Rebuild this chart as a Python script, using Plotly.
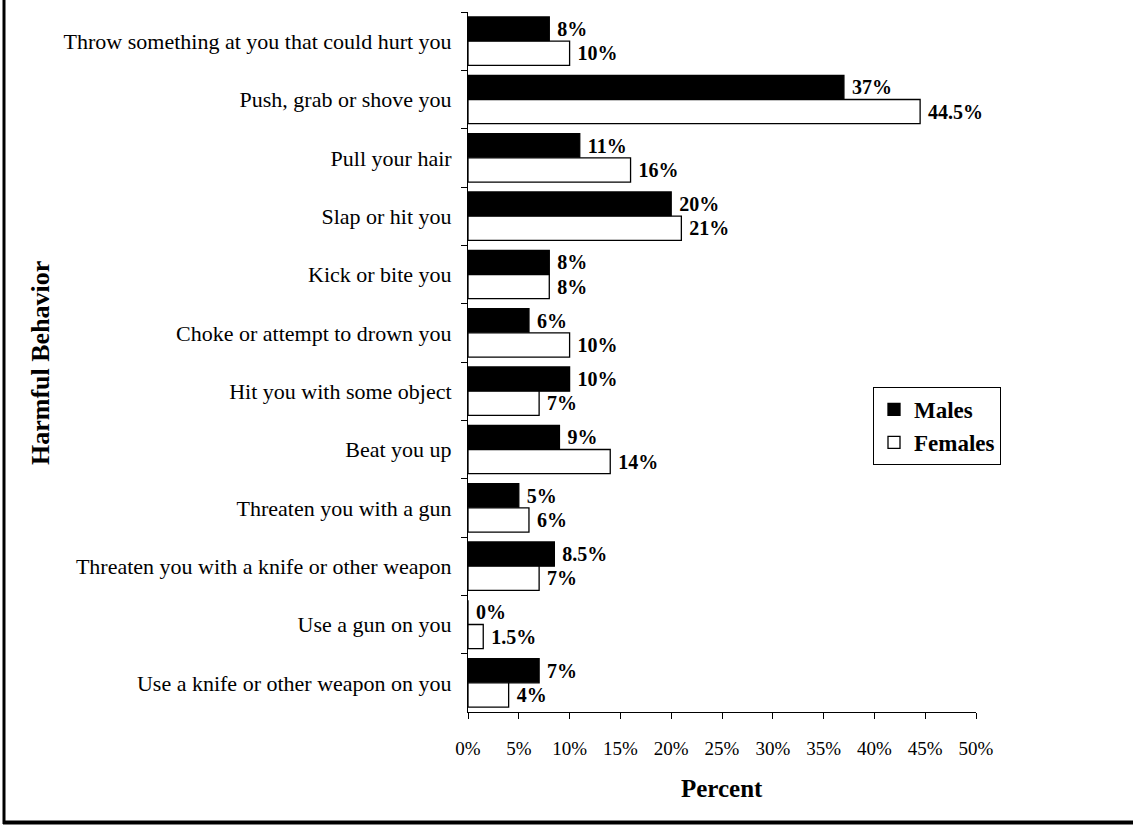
import plotly.graph_objects as go

categories = [
    "Throw something at you that could hurt you",
    "Push, grab or shove you",
    "Pull your hair",
    "Slap or hit you",
    "Kick or bite you",
    "Choke or attempt to drown you",
    "Hit you with some object",
    "Beat you up",
    "Threaten you with a gun",
    "Threaten you with a knife or other weapon",
    "Use a gun on you",
    "Use a knife or other weapon on you",
]
males = [8, 37, 11, 20, 8, 6, 10, 9, 5, 8.5, 0, 7]
females = [10, 44.5, 16, 21, 8, 10, 7, 14, 6, 7, 1.5, 4]
x_ticks = [0, 5, 10, 15, 20, 25, 30, 35, 40, 45, 50]
x_tick_labels = [f"{t}%" for t in x_ticks]

FONT = "Liberation Serif, Times New Roman, serif"
W, H = 1133, 825
L, R, T, B = 468, 976, 12, 712

def lbl(vals):
    return ["\u00a0" + f"{v:g}%" for v in vals]

fig = go.Figure()
fig.add_trace(go.Bar(
    y=categories, x=males, name="Males", orientation="h",
    marker=dict(color="black", line=dict(color="black", width=1.3)),
    text=lbl(males), textposition="outside",
    textfont=dict(family=FONT, size=20, color="black", weight="bold"),
    cliponaxis=False,
))
fig.add_trace(go.Bar(
    y=categories, x=females, name="Females", orientation="h",
    marker=dict(color="white", line=dict(color="black", width=1.3)),
    text=lbl(females), textposition="outside",
    textfont=dict(family=FONT, size=20, color="black", weight="bold"),
    cliponaxis=False,
))

def px_x(p):
    return (p - L) / (R - L)

def px_y(p):
    return (B - p) / (B - T)

fig.update_layout(
    width=W, height=H,
    margin=dict(l=L, r=W - R, t=T, b=H - B, pad=0),
    paper_bgcolor="white", plot_bgcolor="white",
    barmode="group", bargap=0.17, bargroupgap=0,
    font=dict(family=FONT, size=16, color="black"),
    showlegend=True,
    legend=dict(
        x=px_x(873), y=px_y(387), xanchor="left", yanchor="top",
        bordercolor="black", borderwidth=1, bgcolor="white",
        font=dict(family=FONT, size=23, color="black", weight="bold"),
        traceorder="normal", itemwidth=30, tracegroupgap=6,
    ),
    xaxis=dict(
        range=[0, 50], tickvals=x_ticks, ticktext=x_tick_labels,
        showline=True, linecolor="black", linewidth=1,
        ticks="outside", ticklen=6, tickcolor="black",
        showgrid=False, zeroline=False, ticklabelstandoff=13,
        tickfont=dict(family=FONT, size=19),
    ),
    yaxis=dict(
        autorange="reversed", type="category",
        showline=True, linecolor="black", linewidth=1,
        ticks="outside", ticklen=6, tickcolor="black", tickson="boundaries",
        showgrid=False, ticklabelstandoff=11,
        tickfont=dict(family=FONT, size=22),
    ),
    annotations=[
        dict(text="<b>Percent</b>", x=0.5, y=px_y(788), xref="paper", yref="paper",
             xanchor="center", yanchor="middle",
             showarrow=False, font=dict(family=FONT, size=25)),
        dict(text="<b>Harmful Behavior</b>", x=px_x(40), y=px_y(363), xref="paper", yref="paper",
             xanchor="center", yanchor="middle",
             showarrow=False, textangle=-90, font=dict(family=FONT, size=26)),
    ],
    shapes=[
        dict(type="line", xref="paper", yref="paper", x0=px_x(4), x1=px_x(4),
             y0=px_y(-5), y1=px_y(824), line=dict(color="black", width=3)),
        dict(type="line", xref="paper", yref="paper", x0=px_x(3), x1=px_x(1140),
             y0=px_y(822.5), y1=px_y(822.5), line=dict(color="black", width=4)),
    ],
)

fig.write_html("out.html", config={"displayModeBar": False})

with open("out.html", "r", encoding="utf-8") as f:
    html = f.read()
html = html.replace("<body>", '<body style="margin:0;padding:0;overflow:hidden;">', 1)
with open("out.html", "w", encoding="utf-8") as f:
    f.write(html)
